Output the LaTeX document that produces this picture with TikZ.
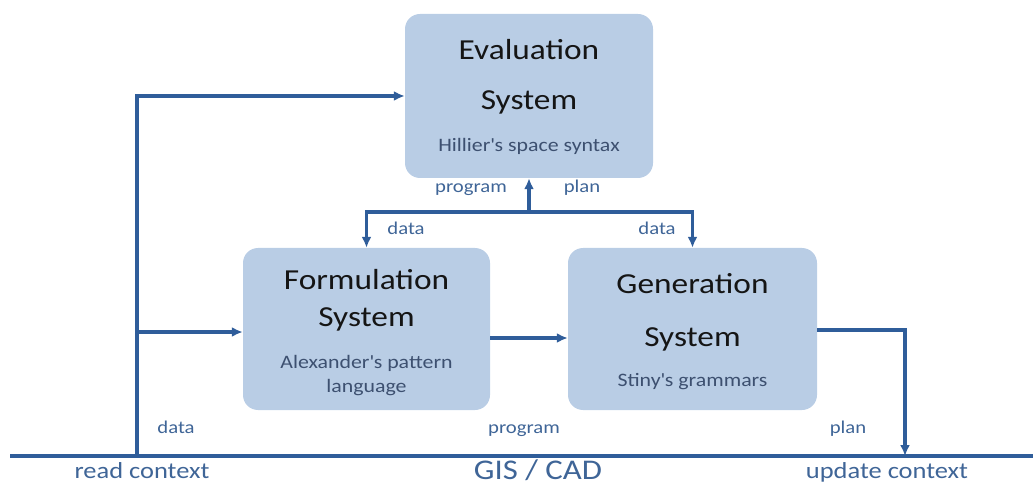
\documentclass[tikz,border=0pt]{standalone}
\usepackage{fontspec}
\setmainfont{Carlito}[FakeStretch=1.15]
\usetikzlibrary{arrows.meta}
\definecolor{boxfill}{HTML}{B9CDE5}
\definecolor{flow}{HTML}{2F5D9A}
\definecolor{labeltext}{HTML}{3F6597}
\definecolor{subtext}{HTML}{3D5070}
\definecolor{titletext}{HTML}{151515}
\newcommand{\apos}{\textquotesingle}
\tikzset{
  sysbox/.style={fill=boxfill, rounded corners=15pt, inner sep=0pt},
  title/.style={font=\fontsize{29}{29}\selectfont, text=titletext, inner sep=0pt, anchor=base},
  sub/.style={font=\fontsize{19}{19}\selectfont, text=subtext, inner sep=0pt, anchor=base},
  lbl/.style={font=\fontsize{18}{18}\selectfont, text=labeltext, inner sep=0pt, anchor=base},
  ctx/.style={font=\fontsize{23}{23}\selectfont, text=labeltext, inner sep=0pt, anchor=base},
  flowline/.style={draw=flow, line width=3.2pt},
  arr/.style={flowline, -{Latex[length=11pt,width=10pt]}},
}
\begin{document}
\begin{tikzpicture}[x=1pt, y=-1pt]
\useasboundingbox (0,0) rectangle (1033,486);

% system boxes
\node[sysbox, minimum width=248pt, minimum height=164pt] (ev) at (529,96) {};
\node[sysbox, minimum width=247pt, minimum height=162pt] (fo) at (366.5,329) {};
\node[sysbox, minimum width=249pt, minimum height=162pt] (ge) at (692.5,329) {};

% box texts
\node[title] (evt1) at (529,60) {Evaluation};
\node[title] (evt2) at (529,110) {System};
\node[sub]   (evs)  at (529,152) {Hillier\apos s space syntax};

\node[title] (fot1) at (366.5,290) {Formulation};
\node[title] (fot2) at (366.5,326) {System};
\node[sub]   (fos1) at (366.5,368) {Alexander\apos s pattern};
\node[sub]   (fos2) at (366.5,392) {language};

\node[title] (get1) at (692.5,294) {Generation};
\node[title] (get2) at (692.5,346) {System};
\node[sub]   (ges)  at (692.5,386) {Stiny\apos s grammars};

% GIS / CAD base line
\coordinate (bl) at (10,456);
\coordinate (br) at (1033,456);
\draw[flowline] (bl) -- (br);

% read context feeds
\coordinate (rc) at (137,456);
\coordinate (rcm) at (137,332);
\draw[arr] (rc) |- (ev.west);
\draw[arr] (rcm) -- (fo.west |- rcm);

% evaluation exchange
\coordinate (j) at (529,212);
\draw[arr] (j) -- (ev.south);
\draw[arr] (j) -| (fo.north);
\draw[arr] (j) -| (ge.north);

% formulation to generation
\coordinate (fg) at (fo.east |- 0,338);
\draw[arr] (fg) -- (ge.west |- fg);

% generation updates context
\coordinate (gu) at (ge.east |- 0,330);
\coordinate (uc) at (905,456);
\draw[arr] (gu) -| (uc);

% labels
\node[lbl] (l1) at (471,193) {program};
\node[lbl] (l2) at (582,193) {plan};
\node[lbl] (l3) at (406,235) {data};
\node[lbl] (l4) at (657,235) {data};
\node[lbl] (l5) at (176,433) {data};
\node[lbl] (l6) at (524,433) {program};
\node[lbl] (l7) at (848,433) {plan};

\node[ctx] (c1) at (142,478) {read context};
\node[ctx, font=\fontsize{28.5}{28.5}\selectfont] (c2) at (538,479) {GIS / CAD};
\node[ctx] (c3) at (887,478) {update context};
\end{tikzpicture}
\end{document}
